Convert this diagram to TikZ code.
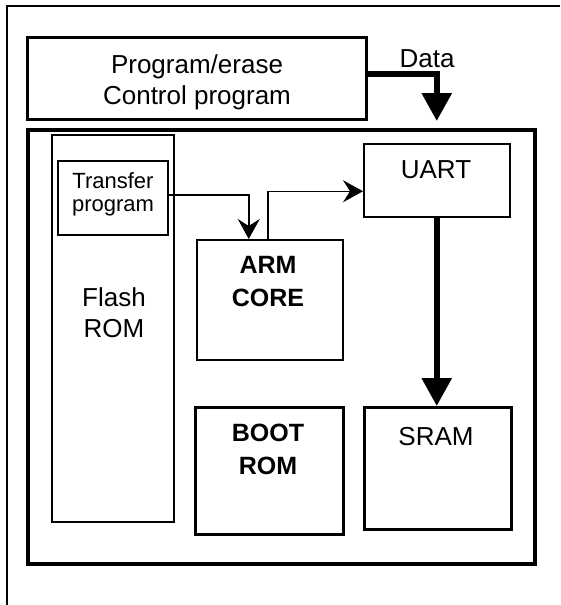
\documentclass[tikz,border=0pt]{standalone}
\usepackage{fontspec}
\setmainfont{Liberation Sans}
\usetikzlibrary{arrows.meta,positioning}

\tikzset{
  thinbox/.style={draw, line width=1.5pt, anchor=north west, inner sep=0pt},
  thickbox/.style={draw, line width=3pt, anchor=north west, inner sep=0pt},
  boardbox/.style={draw, line width=4pt, anchor=north west, inner sep=0pt},
  lbl/.style={font=\fontsize{26}{31}\selectfont, align=center, anchor=base, inner sep=0pt},
  boldlbl/.style={lbl, font=\fontsize{25}{33}\selectfont\bfseries},
  smalllbl/.style={font=\fontsize{22}{23}\selectfont, align=center, anchor=base, inner sep=0pt},
  ctrlarrow/.style={line width=1.5pt, -{Stealth[length=20pt,width=22pt,inset=7pt]}},
  busarrow/.style={line width=6pt, -{Triangle[length=28pt,width=29pt]}}
}

\begin{document}
\begin{tikzpicture}[x=1pt,y=-1pt]
    \useasboundingbox (0,0) rectangle (560,605);
    % outer frame (top and left edges only)
    \draw[line width=1.5pt] (7,605) -- (7,6) -- (560,6);

    % blocks
    \node[thickbox, minimum width=339pt, minimum height=82pt] (prog) at (26,36) {};
    \node[boardbox, minimum width=507pt, minimum height=434pt] (board) at (26,128) {};
    \node[thinbox, minimum width=122pt, minimum height=387pt] (flash) at (51,134) {};
    \node[thinbox, fill=white, minimum width=110pt, minimum height=74pt] (xfer) at (57,160) {};
    \node[thinbox, minimum width=146pt, minimum height=120pt] (arm) at (196,239) {};
    \node[thinbox, minimum width=146pt, minimum height=73pt] (uart) at (363,143) {};
    \node[thickbox, minimum width=148pt, minimum height=127pt] (boot) at (194,406) {};
    \node[thickbox, minimum width=147pt, minimum height=122pt] (sram) at (363,406) {};

    % texts (base = last line)
    \node[lbl] (progtxt) at (197,104) {Program/erase\\Control program};
    \node[lbl] (datatxt) at (427,67) {Data};
    \begin{scope}
        \clip (xfer.north west) rectangle ([xshift=-16pt]xfer.south east);
        \node[smalllbl] (xfertxt) at (113,211) {Transfer\\program};
    \end{scope}
    \node[lbl] (flashtxt) at (114,337) {Flash\\ROM};
    \node[boldlbl] (armtxt) at (268,306) {ARM\\CORE};
    \node[lbl] (uarttxt) at (436,178) {UART};
    \node[boldlbl] (boottxt) at (268,474) {BOOT\\ROM};
    \node[lbl] (sramtxt) at (436,445) {SRAM};

    % connectors
    \draw[busarrow] ([yshift=5pt]prog.east) -| (uart.north |- prog.south);
    \draw[ctrlarrow] ([yshift=3pt]xfer.east) -| ([xshift=-21pt]arm.north);
    \draw[ctrlarrow] ([xshift=-2pt]arm.north) |- ([yshift=-11pt]uart.west);
    \draw[busarrow] (uart.south) -- (uart.south |- sram.north);
\end{tikzpicture}
\end{document}
